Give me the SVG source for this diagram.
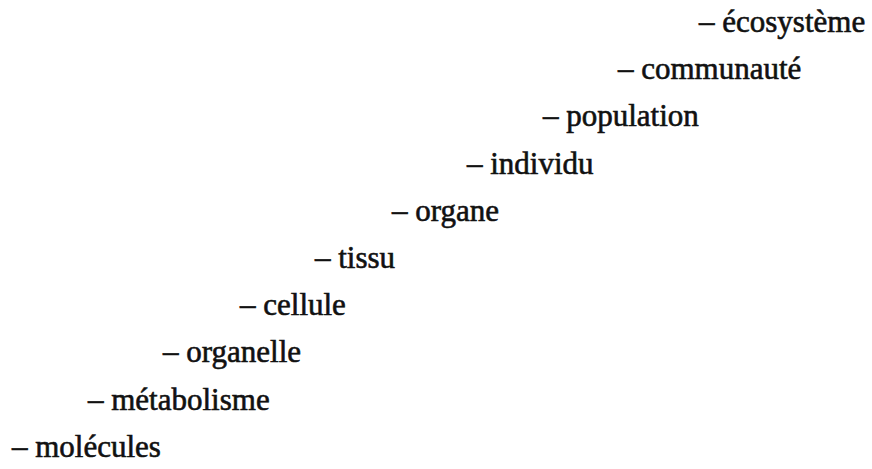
<svg xmlns="http://www.w3.org/2000/svg" width="872" height="469" viewBox="0 0 872 469">
<style>
text{font-family:"Liberation Serif","Times New Roman",serif;font-size:31px;fill:#111;stroke:#111;stroke-width:0.6px}
</style>
<rect width="872" height="469" fill="#fff"/>
<g id="ecosysteme"><text x="699" y="32">– écosystème</text></g>
<g id="communaute"><text x="618" y="79">– communauté</text></g>
<g id="population"><text x="543" y="126">– population</text></g>
<g id="individu"><text x="467" y="174">– individu</text></g>
<g id="organe"><text x="392" y="221">– organe</text></g>
<g id="tissu"><text x="315" y="268">– tissu</text></g>
<g id="cellule"><text x="240" y="315">– cellule</text></g>
<g id="organelle"><text x="163" y="362">– organelle</text></g>
<g id="metabolisme"><text x="88" y="410">– métabolisme</text></g>
<g id="molecules"><text x="12" y="457">– molécules</text></g>
<g id="connectors"></g>
</svg>
